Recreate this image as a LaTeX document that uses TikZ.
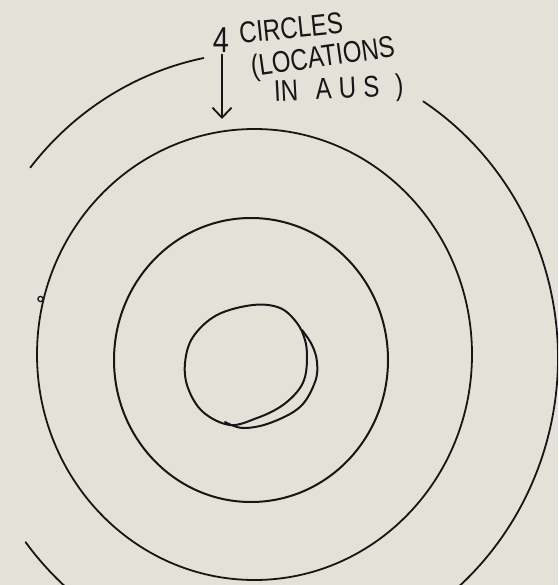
\documentclass[tikz,border=0pt]{standalone}
\usepackage{fontspec}
\usepackage{graphicx}
\setmainfont{Liberation Sans}
\definecolor{paper}{RGB}{228,226,216}
\definecolor{ink}{RGB}{22,22,22}
\usetikzlibrary{arrows.meta}
\tikzset{
  pen/.style={draw=ink, line width=2pt, line cap=round, line join=round},
  thinpen/.style={draw=ink, line width=1.8pt, line cap=round, line join=round},
  hand/.style={text=ink, inner sep=0pt, font=\fontsize{30}{30}\selectfont},
}
\newcommand{\hw}[1]{\scalebox{0.8}[1]{#1}}
\begin{document}
\begin{tikzpicture}[x=1pt,y=-1pt]
\fill[paper] (0,0) rectangle (558,585);
\useasboundingbox (0,0) rectangle (558,585);
\begin{scope}
\clip (0,0) rectangle (558,585);
% outer circle (broken into three arcs)
\coordinate (oc) at (262,358);
\draw[thinpen] (oc) ++(218.5:296 and 306) arc[start angle=218.5, end angle=258.6, x radius=296, y radius=306];
\draw[thinpen] (oc) ++(-57:296 and 306) arc[start angle=-57, end angle=52, x radius=296, y radius=306];
\draw[thinpen] (oc) ++(143:296 and 306) arc[start angle=143, end angle=127, x radius=296, y radius=306];
% second circle
\draw[thinpen] (254.5,354.5) ellipse [x radius=217.5, y radius=225.5];
\draw[ink, line width=1.3pt] (40.5,299) circle [radius=2.6];
% third circle
\draw[pen] (251,360) ellipse [x radius=137, y radius=142];
% inner circle
\draw[pen] plot[smooth cycle, tension=0.6] coordinates {(253,305) (280,308) (297,323) (305,340) (307,357) (305,377) (297,392) (280,407) (257,418) (230,425) (203,412) (188,388) (185,363) (193,337) (217,315)};
% crescent
\draw[pen] plot[smooth, tension=0.6] coordinates {(302,330) (312,345) (317,362) (315,382) (300,407) (270,423) (243,428) (225,422)};
\end{scope}
% label
\node[hand, font=\fontsize{36}{36}\selectfont] (four) at (221,40) {\hw{4}};
\node[hand, rotate=6] (circles) at (291,28) {\hw{CIRCLES}};
\node[hand, rotate=8] (loc) at (323,59) {\hw{(LOCATIONS}};
\node[hand, rotate=3, anchor=west] (inaus) at (274,94) {\hw{IN\hspace{22pt}A\hspace{9pt}U\hspace{9pt}S\hspace{20pt})}};
\coordinate (tip) at (222,119);
\draw[pen, -{Straight Barb[length=10pt, width=19pt, line width=1.8pt]}] (four.south) ++(1,2) coordinate (tail) -- (tip);
\end{tikzpicture}
\end{document}
